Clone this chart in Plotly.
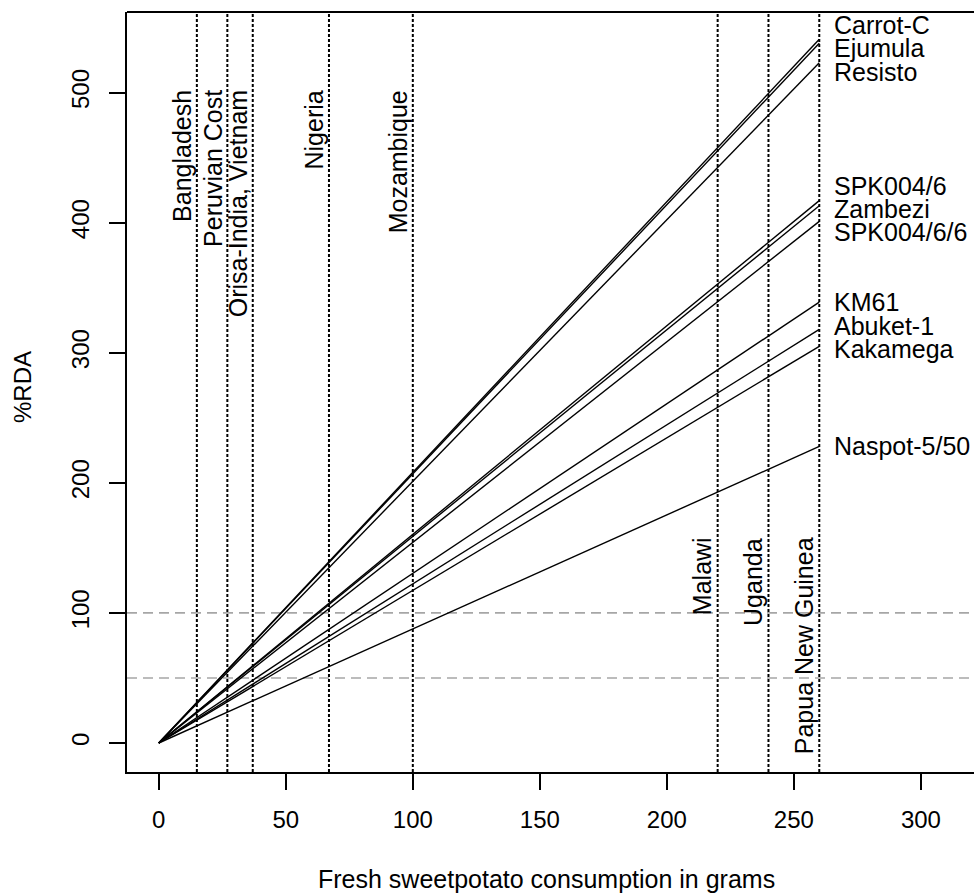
import plotly.graph_objects as go

# Varieties: %RDA at 260 g fresh sweetpotato (lines run from origin)
varieties = ["Carrot-C", "Ejumula", "Resisto", "SPK004/6", "Zambezi", "SPK004/6/6",
             "KM61", "Abuket-1", "Kakamega", "Naspot-5/50"]
rda_at_max = [541, 538, 523, 417, 413, 401, 339, 318, 305, 228]
consumption_x = [0, 260]

# Country consumption levels (g/day)
countries_a = ["Bangladesh", "Peruvian Cost", "Orisa-India, Vietnam", "Nigeria", "Mozambique"]
countries_a_x = [15, 27, 37, 67, 100]
countries_b = ["Malawi", "Uganda", "Papua New Guinea"]
countries_b_x = [220, 240, 260]

ref_levels = [100, 50]

x_ticks = [0, 50, 100, 150, 200, 250, 300]
y_ticks = [0, 100, 200, 300, 400, 500]

FONT = "Liberation Sans, Arial, sans-serif"
W, H = 974, 893
ML, MR, MT, MB = 127, 0, 12, 121
XR = [-12.5, 320.9]
YR = [-22.3, 562]

fig = go.Figure()

for name, v in zip(varieties, rda_at_max):
    fig.add_trace(go.Scatter(x=consumption_x, y=[0, v], mode="lines",
                             line=dict(color="black", width=1.4),
                             name=name, showlegend=False, hoverinfo="name"))

shapes = []
for xv in countries_a_x + countries_b_x:
    shapes.append(dict(type="line", xref="x", yref="paper", x0=xv, x1=xv, y0=0, y1=1,
                       line=dict(color="black", width=2, dash="3px,2px"), layer="below"))
for yv in ref_levels:
    shapes.append(dict(type="line", xref="paper", yref="y", x0=0, x1=1, y0=yv, y1=yv,
                       line=dict(color="#a6a6a6", width=1.6, dash="10px,6px"), layer="below"))
# top border of the box
shapes.append(dict(type="line", xref="paper", yref="paper", x0=0, x1=1, y0=1, y1=1,
                   line=dict(color="black", width=2)))

LBL = 25
ann = []
# country labels (rotated)
for name, xv in zip(countries_a, countries_a_x):
    ann.append(dict(x=xv, y=502, xref="x", yref="y", text=name, textangle=-90,
                    showarrow=False, xanchor="right", yanchor="top", xshift=1, yshift=2,
                    font=dict(family=FONT, size=LBL, color="black")))
for name, xv in zip(countries_b, countries_b_x):
    ann.append(dict(x=xv, y=158, xref="x", yref="y", text=name, textangle=-90,
                    showarrow=False, xanchor="right", yanchor="top", xshift=1, yshift=2,
                    font=dict(family=FONT, size=LBL, color="black")))

# right-hand variety labels, spread to avoid overlap
spacing = 17.8
order = sorted(range(len(varieties)), key=lambda i: -rda_at_max[i])
clusters = [[i] for i in order]
def place(cl):
    c = sum(rda_at_max[i] for i in cl) / len(cl)
    n = len(cl)
    return [c + spacing * ((n - 1) / 2 - k) for k in range(n)]
merged = True
while merged:
    merged = False
    for j in range(len(clusters) - 1):
        lo = place(clusters[j])[-1]
        hi = place(clusters[j + 1])[0]
        if lo - hi < spacing:
            clusters[j] = clusters[j] + clusters[j + 1]
            del clusters[j + 1]
            merged = True
            break
for cl in clusters:
    for i, yv in zip(cl, place(cl)):
        ann.append(dict(x=260, y=yv, xref="x", yref="y", text=varieties[i],
                        showarrow=False, xanchor="left", yanchor="middle", xshift=13,
                        font=dict(family=FONT, size=LBL, color="black")))

# axis titles
ann.append(dict(x=0, y=0.5, xref="paper", yref="paper", text="%RDA", textangle=-90,
                showarrow=False, xanchor="center", yanchor="middle", xshift=-105, yshift=5,
                font=dict(family=FONT, size=24, color="black")))
ann.append(dict(x=152.8, y=0, xref="x", yref="paper", text="Fresh sweetpotato consumption in grams",
                showarrow=False, xanchor="center", yanchor="middle", yshift=-107,
                font=dict(family=FONT, size=25, color="black")))

fig.update_layout(
    width=W, height=H,
    margin=dict(l=ML, r=MR, t=MT, b=MB, pad=0),
    paper_bgcolor="white", plot_bgcolor="white",
    shapes=shapes, annotations=ann, showlegend=False,
    font=dict(family=FONT, size=24, color="black"),
    xaxis=dict(range=XR, tickvals=x_ticks, showgrid=False, zeroline=False,
               showline=True, linecolor="black", linewidth=2,
               ticks="outside", ticklen=16, tickwidth=2, tickcolor="black",
               tickfont=dict(family=FONT, size=24, color="black"), ticklabelstandoff=9),
    yaxis=dict(range=YR, tickvals=y_ticks, showgrid=False, zeroline=False,
               showline=True, linecolor="black", linewidth=2,
               ticks="outside", ticklen=16, tickwidth=2, tickcolor="black", tickangle=-90,
               tickfont=dict(family=FONT, size=24, color="black"), ticklabelstandoff=10),
)

fig.write_html("out.html")
